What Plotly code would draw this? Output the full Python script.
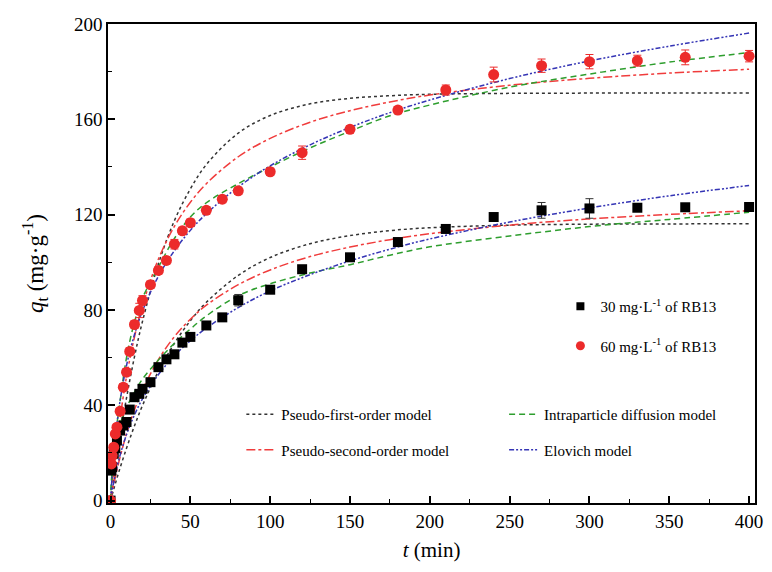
import plotly.graph_objects as go

# ---- experimental data ----
t_exp = [0, 0.5, 1, 2, 3, 4, 6, 8, 10, 12, 15, 18, 20, 25, 30, 35, 40, 45, 50, 60,
         70, 80, 100, 120, 150, 180, 210, 240, 270, 300, 330, 360, 400]
q_30 = [0, 12.6, 14, 19.7, 22, 25.2, 29.4, 31.5, 33, 38.2, 43.4, 44.8, 46.9, 49.7, 56, 59.3,
        61.4, 66.3, 68.7, 73.5, 76.9, 84.1, 88.5, 97.1, 102.1, 108.5, 114, 119, 121.8,
        122.6, 122.9, 123.1, 123.2]
err_30 = [0, 0.5, 0.5, 0.5, 0.5, 0.5, 1, 1, 1, 1, 1, 1, 1, 1, 1, 1, 1, 1, 1, 1,
          1, 2.4, 1.5, 1, 1, 1, 1, 1, 3.3, 4.1, 1, 1, 1]
q_60 = [0, 15.4, 18.9, 22.4, 28, 30.8, 37.5, 47.6, 53.9, 62.6, 73.9, 79.8, 84, 90.6, 96.6,
        100.8, 107.6, 113.2, 116.6, 121.8, 126.5, 130, 138, 146, 155.8, 163.9, 172.3,
        178.8, 182.5, 184.2, 184.6, 186, 186.5]
err_60 = [0, 1, 1, 1, 1, 1, 1, 1.5, 1.5, 1.5, 1.5, 3, 2, 1.5, 1.5, 1.5, 2, 1.5, 1.5, 1.5,
          1.5, 1.5, 1.5, 2.8, 1.5, 1.5, 2.1, 3.1, 2.8, 3, 2.3, 3.1, 2.4]

# ---- model curves ----
t_fit = [0, 2, 5, 10, 15, 20, 30, 40, 50, 60, 80, 100, 125, 150, 175, 200, 250, 300, 350, 400]
pfo_30 = [0, 4.8, 11.6, 22.0, 31.4, 39.9, 54.3, 66.0, 75.5, 83.2, 94.5, 102.0, 107.8, 111.2,
          113.3, 114.5, 115.6, 116.0, 116.1, 116.2]
pfo_60 = [0, 9.6, 23.1, 43.1, 60.4, 75.2, 99.4, 117.5, 130.8, 141.0, 154.2, 161.6, 166.5,
          168.8, 169.9, 170.5, 170.9, 171.0, 171.0, 171.0]
pso_30 = [0, 6.8, 15.7, 28.1, 38.1, 46.4, 59.2, 68.8, 76.1, 82.0, 90.6, 96.8, 102.4, 106.4,
          109.5, 112.0, 115.6, 118.2, 120.1, 121.6]
pso_60 = [0, 13.2, 30.0, 52.0, 68.7, 81.9, 101.4, 115.1, 125.2, 133.0, 144.3, 152.0, 158.8,
          163.6, 167.3, 170.2, 174.3, 177.2, 179.4, 181.0]
ipd_30 = [0, 20, 30, 39, 45.5, 51, 59, 66, 72, 77.5, 86, 91, 95.5, 99, 103, 106.5, 111, 115,
          118, 121]
ipd_60 = [0, 22, 37, 60, 75, 85, 98, 110, 119, 125, 133, 140, 148, 155, 161.5, 166, 173.5,
          179, 184, 188]
elo_30 = [0, 7.7, 16.7, 27.7, 36.0, 42.7, 52.9, 60.8, 67.1, 72.4, 81.0, 88.0, 94.8, 100.6,
          105.5, 109.8, 116.9, 122.8, 127.9, 132.2]
elo_60 = [0, 19.2, 37.5, 56.7, 69.7, 79.6, 94.2, 104.9, 113.4, 120.4, 131.6, 140.5, 149.3,
          156.6, 162.8, 168.1, 177.1, 184.5, 190.7, 196.2]

FONT = "Liberation Serif, Times New Roman, Tinos, serif"
W, H = 772, 572
ML, MR, MT, MB = 108, 9, 24, 69
PW, PH = W - ML - MR, H - MT - MB


def px(xp):
    return (xp - ML) / PW


def py(yp):
    return (H - MB - yp) / PH


fig = go.Figure()

models = [
    ("Pseudo-first-order model", pfo_30, pfo_60, "#333333", "dot", "legend2"),
    ("Pseudo-second-order model", pso_30, pso_60, "#f03c3c", "dashdot", "legend2"),
    ("Intraparticle diffusion model", ipd_30, ipd_60, "#2e9e2e", "6px,4px", "legend3"),
    ("Elovich model", elo_30, elo_60, "#3535b5", "5px,2px,2px,2px,2px,2px", "legend3"),
]
for i, (name, a, b, col, dash, leg) in enumerate(models):
    fig.add_trace(go.Scatter(
        x=t_fit + [None] + t_fit, y=a + [None] + b, mode="lines", name=name,
        line=dict(color=col, dash=dash, width=1.5, shape="spline"),
        legend=leg, legendgroup="m%d" % i, connectgaps=False))

fig.add_trace(go.Scatter(
    x=t_exp, y=q_30, mode="markers", showlegend=False,
    marker=dict(symbol="square", size=10, color="black"),
    error_y=dict(type="data", array=err_30, color="#333333", thickness=1, width=4)))
fig.add_trace(go.Scatter(
    x=t_exp, y=q_60, mode="markers", showlegend=False,
    marker=dict(symbol="circle", size=11, color="#ec2b2b"),
    error_y=dict(type="data", array=err_60, color="#ec2b2b", thickness=1, width=4)))
# legend entries for the data series
fig.add_trace(go.Scatter(
    x=[None], y=[None], mode="markers", name="30 mg·L<sup>-1</sup> of RB13",
    marker=dict(symbol="square", size=8, color="black"),
    legend="legend", legendgroup="d1"))
fig.add_trace(go.Scatter(
    x=[None], y=[None], mode="markers", name="60 mg·L<sup>-1</sup> of RB13",
    marker=dict(symbol="circle", size=9, color="#ec2b2b"),
    legend="legend", legendgroup="d2"))

legfont = dict(family=FONT, size=15, color="black")
fig.update_layout(
    width=W, height=H,
    margin=dict(l=ML, r=MR, t=MT, b=MB),
    plot_bgcolor="white", paper_bgcolor="white",
    font=dict(family=FONT, color="black"),
    legend=dict(x=px(566), y=py(290), xanchor="left", yanchor="top",
                font=legfont, bgcolor="rgba(0,0,0,0)", tracegroupgap=17,
                traceorder="grouped"),
    legend2=dict(x=px(243), y=py(398), xanchor="left", yanchor="top",
                 font=legfont, bgcolor="rgba(0,0,0,0)", tracegroupgap=13,
                 traceorder="grouped"),
    legend3=dict(x=px(509), y=py(398), xanchor="left", yanchor="top",
                 font=legfont, bgcolor="rgba(0,0,0,0)", tracegroupgap=13,
                 traceorder="grouped"),
    xaxis=dict(range=[-1.6, 403.7], tickvals=[0, 50, 100, 150, 200, 250, 300, 350, 400],
               ticks="inside", ticklen=7, tickwidth=1.5, tickcolor="black",
               minor=dict(ticks="inside", dtick=25, tick0=0, ticklen=4, tickwidth=1.2,
                          tickcolor="black"),
               showline=True, linecolor="black", linewidth=1.6, mirror=True,
               showgrid=False, zeroline=False,
               tickfont=dict(family=FONT, size=19),
               title=dict(text="<i>t</i> (min)", font=dict(family=FONT, size=21), standoff=12)),
    yaxis=dict(range=[-1, 200], tickvals=[0, 40, 80, 120, 160, 200],
               ticks="inside", ticklen=7, tickwidth=1.5, tickcolor="black",
               minor=dict(ticks="inside", dtick=20, tick0=0, ticklen=4, tickwidth=1.2,
                          tickcolor="black"),
               showline=True, linecolor="black", linewidth=1.6, mirror=True,
               showgrid=False, zeroline=False,
               tickfont=dict(family=FONT, size=19),
               title=dict(text="<i>q</i><sub>t</sub> (mg·g<sup>-1</sup>)",
                          font=dict(family=FONT, size=23), standoff=24)),
)

fig.write_html("out.html")
